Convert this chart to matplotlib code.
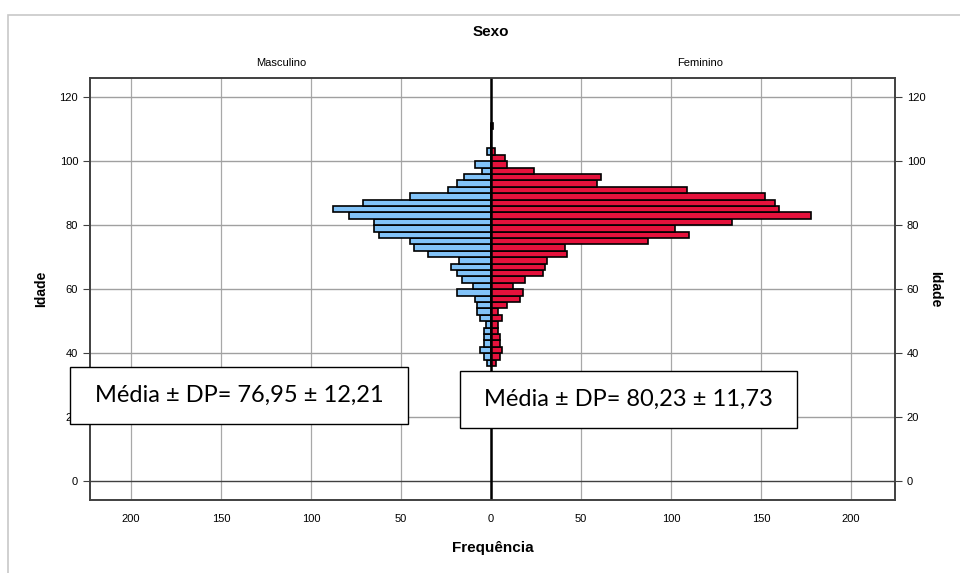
import numpy as np
import matplotlib
matplotlib.use('Agg')
import matplotlib.pyplot as plt
from matplotlib.patches import Rectangle

plt.rcParams['font.family'] = ['Liberation Sans Narrow', 'Liberation Sans', 'DejaVu Sans']

# age bins (lower edge, 2-year width)
ages = np.arange(36, 112, 2)
masculino = [2, 4, 6, 4, 4, 4, 3, 6, 8, 8, 9, 19, 10, 16, 19, 22, 18, 35, 43, 45,
             62, 65, 65, 79, 88, 71, 45, 24, 19, 15, 5, 9, 0, 2, 0, 0, 0, 0]
feminino = [3, 5, 6, 5, 5, 4, 4, 6, 4, 9, 16, 18, 12, 19, 29, 30, 31, 42, 41, 87,
            110, 102, 134, 178, 160, 158, 152, 109, 59, 61, 24, 9, 8, 2, 0, 0, 0, 1]
xticks = [-200, -150, -100, -50, 0, 50, 100, 150, 200]
yticks = [0, 20, 40, 60, 80, 100, 120]
textos = ['Média ± DP= 76,95 ± 12,21', 'Média ± DP= 80,23 ± 11,73']

fig = plt.figure(figsize=(9.6, 5.73), dpi=100)
fig.patches.append(Rectangle((8 / 960, -0.01), 1.0, 1 - 15 / 573 + 0.01, transform=fig.transFigure,
                             fill=False, edgecolor='#c8c8c8', linewidth=1.2))

ax = fig.add_axes([90 / 960, 73 / 573, 805 / 960, 422 / 573])
ax.set_xlim(-222.8, 224.4)
ax.set_ylim(-5.9, 126)

for x in xticks:
    ax.axvline(x, color='#a8a8a8', linewidth=0.9, zorder=0)
for y in yticks[1:]:
    ax.axhline(y, color='#a0a0a0', linewidth=1, zorder=0)
ax.axhline(0, color='#404040', linewidth=1, zorder=0)

ax.barh(ages, -np.array(masculino), height=2, align='edge', color='#82c3f8',
        edgecolor='black', linewidth=1.2, zorder=2)
ax.barh(ages, feminino, height=2, align='edge', color='#e5123c',
        edgecolor='black', linewidth=1.2, zorder=2)
ax.axvline(0, color='black', linewidth=1.8, zorder=3)

ax.set_xticks(xticks)
ax.set_xticklabels([str(abs(v)) for v in xticks], fontsize=8)
ax.set_yticks(yticks)
ax.set_yticklabels([str(v) for v in yticks], fontsize=8)
ax.tick_params(axis='x', length=0, pad=10)
ax.tick_params(axis='y', length=5, color='#404040')
ax2 = ax.twinx()
ax2.set_ylim(ax.get_ylim())
ax2.set_yticks(yticks)
ax2.set_yticklabels([str(v) for v in yticks], fontsize=8)
ax2.tick_params(axis='y', length=5, color='#404040')
for a in (ax, ax2):
    for s in a.spines.values():
        s.set_color('#404040')
        s.set_linewidth(1.2)

ax.set_xlabel('Frequência', fontsize=11, fontweight='bold', labelpad=12)
ax.set_ylabel('Idade', fontsize=10, fontweight='bold', labelpad=8)
ax2.set_ylabel('Idade', fontsize=10, fontweight='bold', rotation=-90, labelpad=12)

fig.text(491 / 960, 1 - 32 / 573, 'Sexo', ha='center', va='center', fontsize=11, fontweight='bold')
fig.text(281 / 960, 1 - 63 / 573, 'Masculino', ha='center', va='center', fontsize=8)
fig.text(700 / 960, 1 - 63 / 573, 'Feminino', ha='center', va='center', fontsize=8)

caixas = [(70, 367, 338, 57), (460, 371, 337, 57)]
for (bx, by, bw, bh), t in zip(caixas, textos):
    fig.patches.append(Rectangle((bx / 960, 1 - (by + bh) / 573), bw / 960, bh / 573,
                                 transform=fig.transFigure, facecolor='white',
                                 edgecolor='black', linewidth=1, zorder=5))
    fig.text((bx + bw / 2) / 960, 1 - (by + bh / 2) / 573, t, ha='center', va='center',
             fontsize=17, family=['Lato', 'DejaVu Sans'], zorder=6)

fig.savefig('out.png', dpi=100)
